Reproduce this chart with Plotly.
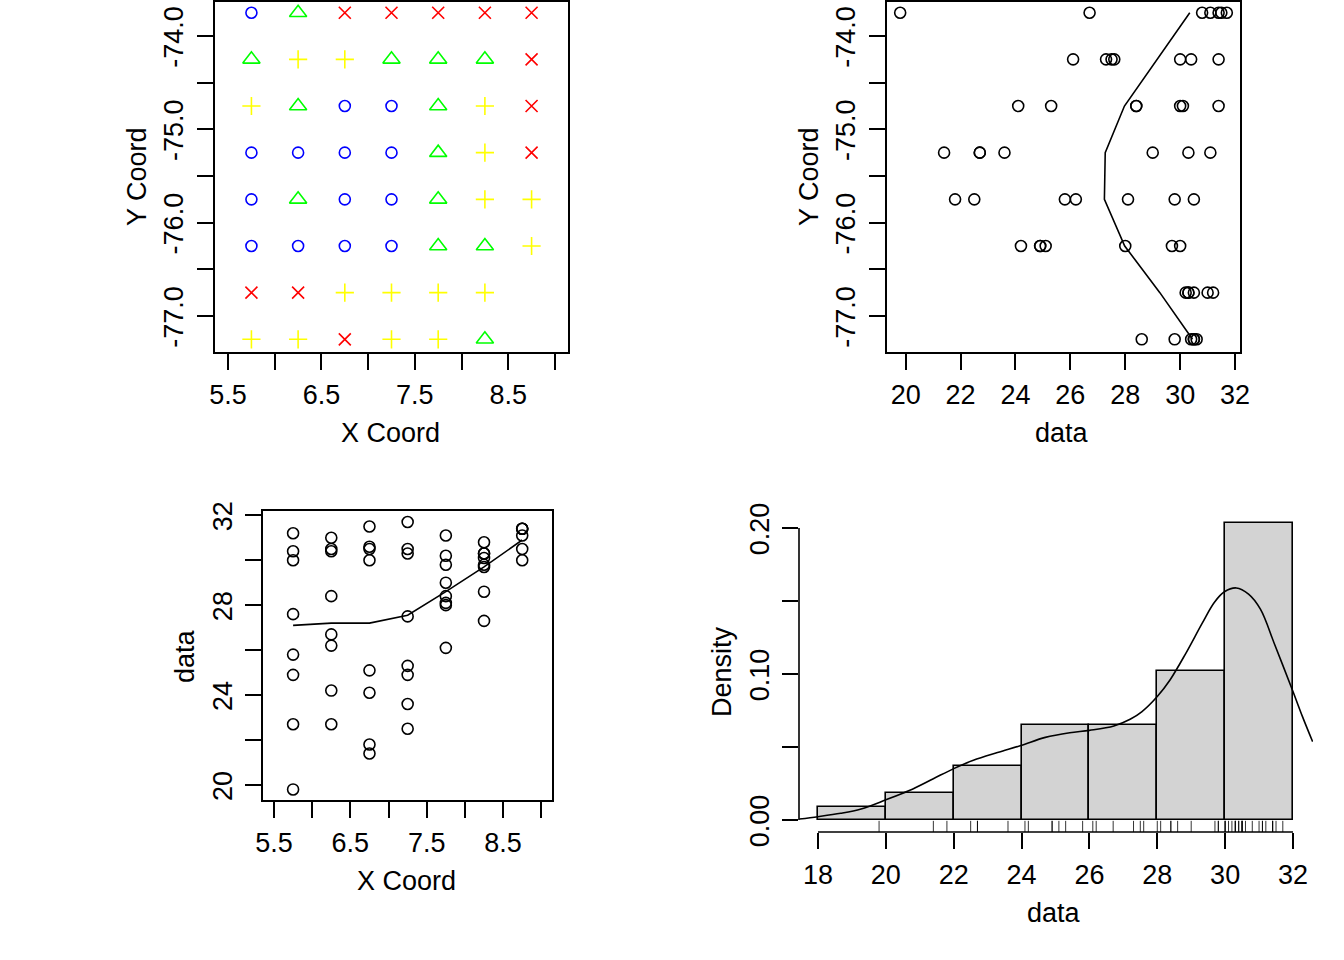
import plotly.graph_objects as go

X_COORDS = [5.75, 6.25, 6.75, 7.25, 7.75, 8.25, 8.75]
Y_COORDS = [-73.75, -74.25, -74.75, -75.25, -75.75, -76.25, -76.75, -77.25]

# one row per Y coord, None where the grid has no sample
ROW_1 = [19.8, 26.7, 31.5, 31.7, 31.1, 30.8, 31.4]
ROW_2 = [27.6, 30.4, 30.0, 27.5, 26.1, 27.3, 31.4]
ROW_3 = [30.0, 28.4, 24.1, 25.3, 28.4, 30.1, 31.4]
ROW_4 = [22.7, 22.7, 21.4, 23.6, 29.0, 30.3, 31.1]
ROW_5 = [25.8, 26.2, 21.8, 22.5, 28.1, 29.8, 30.5]
ROW_6 = [24.9, 24.2, 25.1, 24.9, 28.0, 29.7, 30.0]
ROW_7 = [31.2, 31.0, 30.5, 30.3, 30.2, 30.3, None]
ROW_8 = [30.4, 30.5, 30.6, 30.5, 29.8, 28.6, None]
ROWS = [ROW_1, ROW_2, ROW_3, ROW_4, ROW_5, ROW_6, ROW_7, ROW_8]

# quartile class of each location: b, g, y, r
CLASS_ROWS = ["bgrrrrr", "gyygggr", "ygbbgyr", "bbbbgyr",
              "bgbbgyy", "bbbbggy", "rryyyy", "yyryyg"]

ROW_SMOOTH = [30.35, 29.15, 27.97, 27.27, 27.24, 27.98, 29.26, 30.45]
COL_SMOOTH = [27.1, 27.2, 27.2, 27.55, 28.6, 29.7, 30.9]

HIST_MIDS = [19, 21, 23, 25, 27, 29, 31]
HIST_DENSITY = [0.00926, 0.0185, 0.037, 0.0648, 0.0648, 0.1019, 0.2037]

DENS_X = [17.45, 18, 18.67, 19.27, 20, 20.69, 21.4, 22, 22.58, 23.29, 23.98, 24.7, 25.42, 26, 26.72,
          27.2, 27.55, 28, 28.38, 28.85, 29.33, 29.68, 29.98, 30.33, 30.69, 31.04, 31.46, 32, 32.28, 32.58]
DENS_Y = [0.0007, 0.0023, 0.0046, 0.0076, 0.0138, 0.0202, 0.0283, 0.0352, 0.0409, 0.0462, 0.051, 0.0566,
          0.0598, 0.0614, 0.0644, 0.069, 0.0743, 0.0846, 0.0961, 0.1145, 0.135, 0.149, 0.1563, 0.1589,
          0.1547, 0.1444, 0.1202, 0.088, 0.0708, 0.0536]

COORD_TICKS = [5.5, 6, 6.5, 7, 7.5, 8, 8.5, 9]
COORD_LABELS = ["5.5", "", "6.5", "", "7.5", "", "8.5", ""]
LAT_TICKS = [-74, -74.5, -75, -75.5, -76, -76.5, -77]
LAT_LABELS = ["-74.0", "", "-75.0", "", "-76.0", "", "-77.0"]
DATA_TICKS = [20, 22, 24, 26, 28, 30, 32]
DATA_LABELS = ["20", "22", "24", "26", "28", "30", "32"]
DATA_LABELS_SPARSE = ["20", "", "24", "", "28", "", "32"]
HIST_TICKS = [18, 20, 22, 24, 26, 28, 30, 32]
HIST_LABELS = ["18", "20", "22", "24", "26", "28", "30", "32"]
DENS_TICKS = [0, 0.05, 0.1, 0.15, 0.2]
DENS_LABELS = ["0.00", "", "0.10", "", "0.20"]

WIDTH, HEIGHT = 1344, 960
FONT = "Liberation Sans"
FONT_SIZE = 27
LINE_W = 1.6

STYLES = {
    "b": dict(symbol="circle-open", size=11, color="#0000FF"),
    "g": dict(symbol="triangle-up-open", size=15, color="#00FF00"),
    "y": dict(symbol="cross-thin-open", size=13, color="#FFFF00"),
    "r": dict(symbol="x-thin-open", size=12, color="#FF0000"),
}


def dom_x(left, right):
    return [left / WIDTH, right / WIDTH]


def dom_y(top, bottom):
    return [1 - bottom / HEIGHT, 1 - top / HEIGHT]


def axis(domain, rng, ticks, labels, anchor, angle=0, box=True, standoff=2, shift=0):
    return dict(domain=domain, range=rng, tickvals=ticks, ticktext=labels, anchor=anchor,
                automargin=False, showgrid=False, zeroline=False, showline=box, mirror=box,
                linecolor="black", linewidth=LINE_W, ticks="outside", ticklen=16, tickwidth=LINE_W,
                tickcolor="black", tickangle=angle, ticklabelstandoff=standoff, ticklabelshift=shift,
                tickfont=dict(family=FONT, size=FONT_SIZE, color="black"))


def label(text, x, y, angle=0):
    return dict(text=text, x=x / WIDTH, y=1 - y / HEIGHT, xref="paper", yref="paper", showarrow=False,
                textangle=angle, xanchor="center", yanchor="middle",
                font=dict(family=FONT, size=FONT_SIZE, color="black"))


def open_circles(xs, ys, xaxis, yaxis):
    return go.Scatter(x=xs, y=ys, mode="markers", xaxis=xaxis, yaxis=yaxis, showlegend=False,
                      marker=dict(symbol="circle-open", size=11, color="black", line=dict(width=LINE_W)))


def smooth_line(xs, ys, xaxis, yaxis, shape="linear"):
    return go.Scatter(x=xs, y=ys, mode="lines", xaxis=xaxis, yaxis=yaxis, showlegend=False,
                      line=dict(color="black", width=LINE_W, shape=shape))


# long form of the grid
lon, lat, val, cls = [], [], [], []
for row, classes, y in zip(ROWS, CLASS_ROWS, Y_COORDS):
    for x, v, c in zip(X_COORDS, row, classes):
        if v is not None:
            lon.append(x)
            lat.append(y)
            val.append(v)
            cls.append(c)

fig = go.Figure()

# top left, coordinates by quartile
for key, st in STYLES.items():
    idx = [i for i, c in enumerate(cls) if c == key]
    fig.add_trace(go.Scatter(x=[lon[i] for i in idx], y=[lat[i] for i in idx], mode="markers",
                             xaxis="x", yaxis="y", showlegend=False,
                             marker=dict(symbol=st["symbol"], size=st["size"], color=st["color"],
                                         line=dict(width=LINE_W, color=st["color"]))))

# top right, data against Y
fig.add_trace(open_circles(val, lat, "x2", "y2"))
fig.add_trace(smooth_line(ROW_SMOOTH, Y_COORDS, "x2", "y2"))

# bottom left, X against data
fig.add_trace(open_circles(lon, val, "x3", "y3"))
fig.add_trace(smooth_line(X_COORDS, COL_SMOOTH, "x3", "y3"))

# bottom right, histogram, density and rug
fig.add_trace(go.Bar(x=HIST_MIDS, y=HIST_DENSITY, width=2, xaxis="x4", yaxis="y4", showlegend=False,
                     marker=dict(color="#D3D3D3", line=dict(color="black", width=LINE_W))))
fig.add_trace(smooth_line(DENS_X, DENS_Y, "x4", "y4", shape="spline"))
fig.add_trace(go.Scatter(x=val, y=[-0.0044] * len(val), mode="markers", xaxis="x4", yaxis="y4", showlegend=False,
                         marker=dict(symbol="line-ns", size=8, color="black", line=dict(width=0.8, color="black"))))

fig.update_layout(
    width=WIDTH, height=HEIGHT, autosize=False, margin=dict(l=0, r=0, t=0, b=0),
    paper_bgcolor="white", plot_bgcolor="white", bargap=0,
    xaxis=axis(dom_x(215, 568), [5.36, 9.14], COORD_TICKS, COORD_LABELS, "y"),
    yaxis=axis(dom_y(1.5, 352), [-77.386, -73.63], LAT_TICKS, LAT_LABELS, "x", angle=-90, standoff=3, shift=5),
    xaxis2=axis(dom_x(887, 1240), [19.32, 32.18], DATA_TICKS, DATA_LABELS, "y2"),
    yaxis2=axis(dom_y(1.5, 352), [-77.386, -73.63], LAT_TICKS, LAT_LABELS, "x2", angle=-90, standoff=3, shift=5),
    xaxis3=axis(dom_x(263, 552), [5.356, 9.14], COORD_TICKS, COORD_LABELS, "y3"),
    yaxis3=axis(dom_y(511, 800), [19.33, 32.19], DATA_TICKS, DATA_LABELS_SPARSE, "x3", angle=-90, shift=5),
    xaxis4=axis(dom_x(799, 1313), [17.44, 32.59], HIST_TICKS, HIST_LABELS, "y4", box=False, standoff=3),
    yaxis4=axis(dom_y(511, 832), [-0.0082, 0.2116], DENS_TICKS, DENS_LABELS, "x4", angle=-90, box=False, shift=5),
    annotations=[
        label("X Coord", 390, 433),
        label("Y Coord", 137, 177, -90),
        label("data", 1062, 433),
        label("Y Coord", 809, 177, -90),
        label("X Coord", 406, 881),
        label("data", 185, 656, -90),
        label("data", 1054, 913),
        label("Density", 722, 672, -90),
    ],
    shapes=[
        dict(type="line", xref="x4", yref="y4 domain", x0=18, x1=32, y0=0, y1=0,
             line=dict(color="black", width=LINE_W)),
        dict(type="line", xref="x4 domain", yref="y4", x0=0, x1=0, y0=0, y1=0.2,
             line=dict(color="black", width=LINE_W)),
    ],
)

# the page's default body margin would push everything 8px down and right
fig.write_html("out.html", config=dict(displayModeBar=False), post_script="document.body.style.margin='0';")
